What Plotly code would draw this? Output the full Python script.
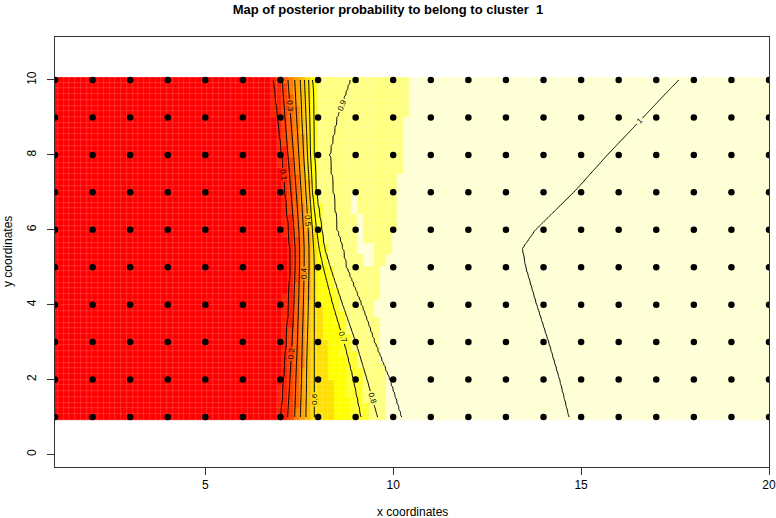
import numpy as np
import plotly.graph_objects as go

# ---------------- data ----------------
title_text = "Map of posterior probability to belong to cluster  1"
x_label = "x coordinates"
y_label = "y coordinates"

grid_x = list(range(1, 21))          # sampling sites (x)
grid_y = list(range(1, 11))          # sampling sites (y)

x_ticks = [5, 10, 15, 20]
y_ticks = [0, 2, 4, 6, 8, 10]

# rows (y) at which contour crossings were read
row_y = [1, 2, 3, 4, 5, 5.5, 6, 7, 8, 9, 10]

contour_levels = [0.1, 0.2, 0.3, 0.4, 0.5, 0.6, 0.7, 0.8, 0.9, 1.0]
lvl_01 = [7.02, 7.09, 7.16, 7.22, 7.26, 7.25, 7.22, 7.13, 7.04, 6.93, 6.82]
lvl_02 = [7.19, 7.25, 7.31, 7.36, 7.39, 7.39, 7.36, 7.28, 7.20, 7.12, 7.05]
lvl_03 = [7.38, 7.41, 7.45, 7.48, 7.51, 7.51, 7.49, 7.42, 7.35, 7.27, 7.20]
lvl_04 = [7.53, 7.56, 7.58, 7.61, 7.63, 7.63, 7.61, 7.55, 7.49, 7.43, 7.38]
lvl_05 = [7.67, 7.69, 7.71, 7.74, 7.76, 7.76, 7.74, 7.68, 7.62, 7.57, 7.53]
lvl_06 = [7.90, 7.90, 7.90, 7.90, 7.90, 7.88, 7.85, 7.78, 7.72, 7.68, 7.64]
lvl_07 = [9.15, 8.95, 8.70, 8.40, 8.14, 8.03, 7.96, 7.85, 7.80, 7.78, 7.75]
lvl_08 = [9.58, 9.30, 9.00, 8.65, 8.32, 8.17, 8.10, 7.95, 7.90, 7.87, 7.85]
lvl_09 = [10.21, 9.90, 9.50, 9.15, 8.75, 8.65, 8.50, 8.40, 8.30, 8.50, 8.85]
lvl_10 = [14.67, 14.42, 14.13, 13.81, 13.52, 13.43, 13.78, 14.80, 15.70, 16.65, 17.60]

# image colour bands (R heat.colors(12)) and per-row starts of the light bands
band_colors = ["#FF0000", "#FF2000", "#FF4000", "#FF6000", "#FF8000", "#FF9F00",
               "#FFBF00", "#FFDF00", "#FFFF00", "#FFFF2A", "#FFFF80", "#FFFFD5"]
band8_start = [8.45, 8.35, 8.20, 8.05, 7.95, 7.92, 7.90, 7.86, 7.84, 7.82, 7.80]
band9_start = [8.88, 8.75, 8.60, 8.40, 8.20, 8.12, 8.05, 8.00, 8.00, 8.00, 7.98]
band10_start = [9.33, 9.20, 8.90, 8.60, 8.38, 8.25, 8.12, 8.02, 8.00, 8.00, 7.98]
band11_start = [9.85, 9.80, 9.64, 9.55, 9.73, 9.95, 10.05, 10.15, 10.25, 10.35, 10.48]
# small pale patches inside the light-yellow zone (x0, x1, y0, y1)
pale_patches = [(8.85, 9.11, 6.40, 6.95), (9.07, 9.25, 5.42, 6.36), (9.20, 9.45, 5.05, 5.60)]

# ---------------- build fields ----------------
level_rows = [lvl_01, lvl_02, lvl_03, lvl_04, lvl_05, lvl_06, lvl_07, lvl_08, lvl_09, lvl_10]


def field_row(xs, y):
    cx = [float(np.interp(y, row_y, arr)) for arr in level_rows]
    kx = [1.0, cx[0] - 0.6] + cx + [20.0]
    kv = [0.0, 0.0] + contour_levels + [1.05]
    return np.interp(xs, kx, kv)


cx_grid = np.linspace(1, 20, 381)
cy_grid = np.linspace(1, 10, 181)
cz = np.array([field_row(cx_grid, y) for y in cy_grid])

nx, ny = 125, 60
ix = np.linspace(1, 20, nx)
iy = np.linspace(1, 10, ny)
idx = np.zeros((ny, nx))
for j, y in enumerate(iy):
    f = field_row(ix, y)
    base = np.minimum(np.floor(f * 12), 7)
    for k, starts in zip([8, 9, 10, 11], [band8_start, band9_start, band10_start, band11_start]):
        s = np.interp(y, row_y, starts)
        base = np.where(ix >= s, np.maximum(base, k), base)
    for (x0, x1, y0, y1) in pale_patches:
        if y0 <= y <= y1:
            base = np.where((ix >= x0) & (ix <= x1), 11, base)
    idx[j] = base

steps = []
for i, c in enumerate(band_colors):
    steps.append([i / 12, c])
    steps.append([(i + 1) / 12, c])

fig = go.Figure()
fig.add_trace(go.Heatmap(x=ix, y=iy, z=idx + 0.5, zmin=0, zmax=12, colorscale=steps,
                         showscale=False, xgap=0.15, ygap=0.15, hoverinfo="skip"))
fig.add_trace(go.Contour(x=cx_grid, y=cy_grid, z=cz, showscale=False,
                         contours=dict(coloring="lines", start=0.1, end=1.0, size=0.1,
                                       showlabels=True,
                                       labelfont=dict(size=8, color="black",
                                                      family="Liberation Sans, Arial, sans-serif")),
                         line=dict(color="black", width=1),
                         colorscale=[[0, "black"], [1, "black"]], hoverinfo="skip"))
px_ = [x for y in grid_y for x in grid_x]
py_ = [y for y in grid_y for x in grid_x]
fig.add_trace(go.Scatter(x=px_, y=py_, mode="markers",
                         marker=dict(color="black", size=6.5), hoverinfo="skip"))

font = "Liberation Sans, Arial, sans-serif"
fig.update_layout(
    width=776, height=518, autosize=False,
    margin=dict(l=55, r=7, t=37, b=51, pad=0, autoexpand=False),
    paper_bgcolor="white", plot_bgcolor="white",
    showlegend=False,
    font=dict(family=font, size=12, color="black"),
    title=dict(text="<b>" + title_text + "</b>", x=0.5, xref="container", xanchor="center",
               y=1 - 9 / 518, yref="container", yanchor="middle",
               font=dict(size=13, family=font, color="black")),
    xaxis=dict(range=[1, 20], tickvals=x_ticks, ticks="outside", ticklen=7,
               tickcolor="#333", showline=True, mirror=True, linecolor="#333",
               showgrid=False, zeroline=False, tickfont=dict(size=12), automargin=False),
    yaxis=dict(range=[-0.335, 11.148], tickvals=y_ticks, ticks="outside", ticklen=7,
               tickangle=-90, tickcolor="#333", showline=True, mirror=True, linecolor="#333",
               showgrid=False, zeroline=False, tickfont=dict(size=12), ticklabelstandoff=6,
               automargin=False),
    annotations=[
        dict(text=x_label, xref="paper", yref="paper", x=0.5, y=-(512 - 467) / 430,
             xanchor="center", yanchor="middle", showarrow=False, font=dict(size=12)),
        dict(text=y_label, xref="paper", yref="paper", x=(8 - 55) / 714, y=0.5,
             xanchor="center", yanchor="middle", textangle=-90, showarrow=False,
             font=dict(size=12)),
    ],
)

fig.write_html("out.html", config={"displayModeBar": False, "responsive": False},
               post_script="document.body.style.margin='0';document.body.style.padding='0';"
                           "document.body.style.overflow='hidden';")
